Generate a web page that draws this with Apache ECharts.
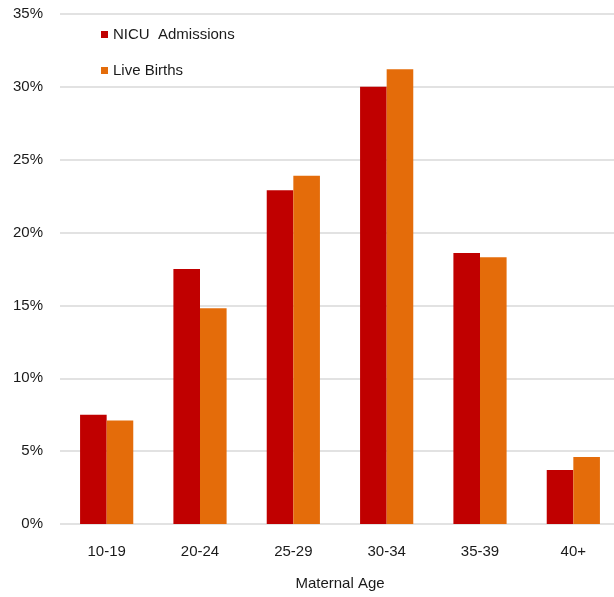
<!DOCTYPE html>
<html>
<head>
<meta charset="utf-8">
<style>
  html, body { margin: 0; padding: 0; background: #fff; overflow: hidden; }
  #chart { width: 620px; height: 597px; }
</style>
<script src="https://cdn.jsdelivr.net/npm/echarts@6/dist/echarts.min.js"></script>
</head>
<body>
<div id="chart"></div>
<script>
// Share of NICU admissions and live births by maternal age group (%)
const ageGroups = ['10-19', '20-24', '25-29', '30-34', '35-39', '40+'];
const nicuAdmissions = [7.5, 17.5, 22.9, 30.0, 18.6, 3.7];
const liveBirths = [7.1, 14.8, 23.9, 31.2, 18.3, 4.6];
const yTicks = { min: 0, max: 35, interval: 5 };

const font = 'Liberation Sans, Arial, sans-serif';
const textColor = '#1a1a1a';
const chart = echarts.init(document.getElementById('chart'));

chart.setOption({
  animation: false,
  backgroundColor: '#ffffff',
  textStyle: { fontFamily: font },
  // plot area runs slightly past the right edge of the visible page
  grid: { left: 60, top: 14, width: 560, height: 510, containLabel: false },
  legend: {
    orient: 'vertical',
    left: 96,
    top: 22,
    itemWidth: 7,
    itemHeight: 7,
    itemGap: 21,
    icon: 'rect',
    textStyle: { fontFamily: font, fontSize: 15, color: textColor, lineHeight: 15 },
    data: ['NICU  Admissions', 'Live Births']
  },
  xAxis: {
    type: 'category',
    data: ageGroups,
    name: 'Maternal Age',
    nameLocation: 'middle',
    nameGap: 52,
    nameTextStyle: { fontFamily: font, fontSize: 15, color: textColor },
    axisLine: { show: false },
    axisTick: { show: false },
    axisLabel: { margin: 20, fontFamily: font, fontSize: 15, color: textColor }
  },
  yAxis: {
    type: 'value',
    min: yTicks.min,
    max: yTicks.max,
    interval: yTicks.interval,
    axisLine: { show: false },
    axisTick: { show: false },
    axisLabel: {
      margin: 17,
      padding: [3, 0, 0, 0],
      fontFamily: font,
      fontSize: 15,
      color: textColor,
      formatter: v => v + '%'
    },
    splitLine: { lineStyle: { color: '#d9d9d9', width: 1.5 } }
  },
  series: [
    {
      name: 'NICU  Admissions',
      type: 'bar',
      data: nicuAdmissions,
      barGap: '0%',
      barCategoryGap: '43%',
      itemStyle: { color: '#c00000' }
    },
    {
      name: 'Live Births',
      type: 'bar',
      data: liveBirths,
      itemStyle: { color: '#e46c0a' }
    }
  ]
});
</script>
</body>
</html>
